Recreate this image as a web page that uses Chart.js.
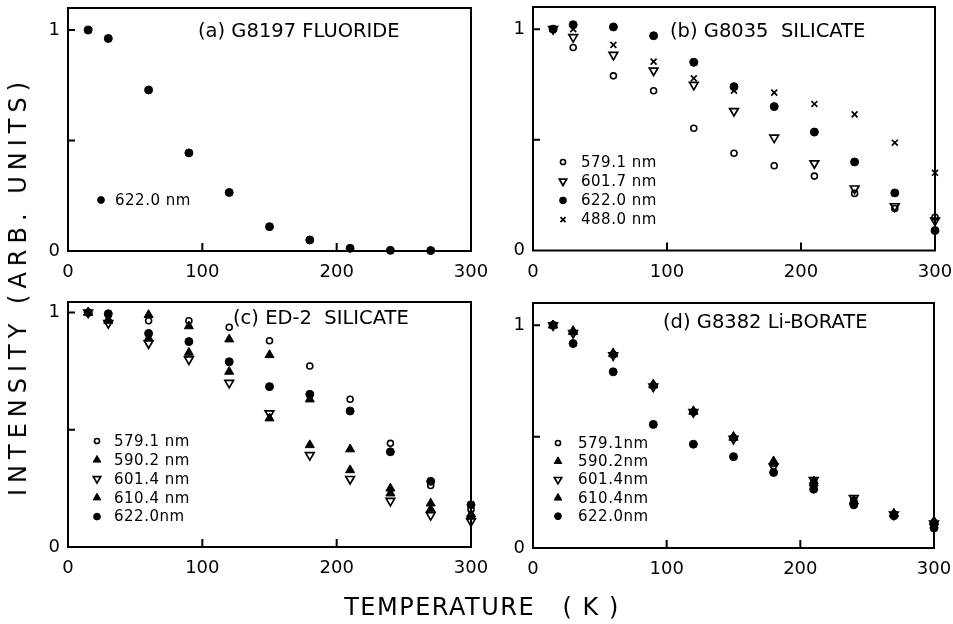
<!DOCTYPE html>
<html>
<head>
<meta charset="utf-8">
<script src="https://cdn.jsdelivr.net/npm/chart.js@4/dist/chart.umd.min.js"></script>
<style>
  html, body { margin: 0; padding: 0; background: #fff; }
  #wrap { position: relative; width: 953px; height: 624px; overflow: hidden; background: #fff; }
  canvas.panel { position: absolute; left: 0; top: 0; }
  .ytitle { position: absolute; left: 18px; top: 286px; transform: translate(-50%, -50%) rotate(-90deg);
    font-family: "DejaVu Sans", sans-serif; font-size: 24px; letter-spacing: 6px; white-space: pre; color: #000; }
  .xtitle { position: absolute; left: 482px; top: 607px; transform: translate(-50%, -50%);
    font-family: "DejaVu Sans", sans-serif; font-size: 24px; letter-spacing: 1.5px; white-space: pre; color: #000; }
</style>
</head>
<body>
<div id="wrap">
  <canvas class="panel" id="pa" width="953" height="624"></canvas>
  <canvas class="panel" id="pb" width="953" height="624"></canvas>
  <canvas class="panel" id="pc" width="953" height="624"></canvas>
  <canvas class="panel" id="pd" width="953" height="624"></canvas>
  <div class="ytitle">INTENSITY (ARB. UNITS)</div>
  <div class="xtitle">TEMPERATURE   ( K )</div>
</div>
<script>
// ---------- data ----------
const xTickValues = [0, 100, 200, 300];
const yTickValues = [0, 0.5, 1];

// (a) G8197 fluoride
const tempsA = [15, 30, 60, 90, 120, 150, 180, 210, 240, 270];
const a_622 = [1.0, 0.962, 0.729, 0.444, 0.265, 0.11, 0.05, 0.012, 0.003, 0.002];

// common temperature grid for (b), (c), (d)
const temps = [15, 30, 60, 90, 120, 150, 180, 210, 240, 270, 300];

// (b) G8035 silicate
const b_579 = [1.0, 0.917, 0.789, 0.722, 0.552, 0.439, 0.383, 0.336, 0.258, 0.19, 0.15];
const b_601 = [1.0, 0.964, 0.884, 0.813, 0.748, 0.63, 0.51, 0.394, 0.28, 0.20, 0.135];
const b_622 = [1.0, 1.02, 1.01, 0.97, 0.85, 0.74, 0.65, 0.535, 0.40, 0.26, 0.09];
const b_488 = [1.0, 1.0, 0.929, 0.853, 0.778, 0.722, 0.713, 0.662, 0.615, 0.487, 0.351];

// (c) ED-2 silicate
const c_579 = [1.0, 0.99, 0.965, 0.965, 0.937, 0.88, 0.772, 0.63, 0.442, 0.262, 0.16];
const c_590 = [1.0, 0.97, 0.99, 0.942, 0.886, 0.819, 0.63, 0.417, 0.25, 0.186, 0.14];
const c_601 = [1.0, 0.955, 0.869, 0.80, 0.70, 0.57, 0.392, 0.29, 0.197, 0.136, 0.11];
const c_610 = [1.0, 0.965, 0.89, 0.829, 0.748, 0.549, 0.435, 0.328, 0.229, 0.161, 0.13];
const c_622 = [1.0, 0.995, 0.911, 0.876, 0.79, 0.684, 0.651, 0.58, 0.406, 0.28, 0.18];

// (d) G8382 Li-borate
const d_579 = [1.0, 0.97, 0.87, 0.73, 0.61, 0.495, 0.38, 0.30, 0.215, 0.152, 0.115];
const d_590 = [1.0, 0.975, 0.875, 0.735, 0.615, 0.50, 0.39, 0.30, 0.21, 0.155, 0.12];
const d_601 = [1.0, 0.965, 0.865, 0.725, 0.61, 0.49, 0.365, 0.305, 0.224, 0.15, 0.11];
const d_610 = [1.0, 0.97, 0.87, 0.73, 0.612, 0.495, 0.385, 0.29, 0.21, 0.152, 0.115];
const d_622 = [1.0, 0.918, 0.791, 0.555, 0.466, 0.41, 0.339, 0.264, 0.194, 0.145, 0.09];

// ---------- styles ----------
const FONT = '"DejaVu Sans", sans-serif';
const STY = {
  openCircle:  { pointStyle: 'circle',   radius: 3.0, fill: 'rgba(0,0,0,0)', bw: 1.6, rot: 0 },
  fillCircle:  { pointStyle: 'circle',   radius: 4.0, fill: '#000', bw: 1, rot: 0 },
  openTriDown: { pointStyle: 'triangle', radius: 5.0, fill: 'rgba(0,0,0,0)', bw: 1.7, rot: 180 },
  fillTriUp:   { pointStyle: 'triangle', radius: 5.2, fill: '#000', bw: 1, rot: 0 },
  cross:       { pointStyle: 'crossRot', radius: 4.2, fill: 'rgba(0,0,0,0)', bw: 1.7, rot: 0 }
};

function ds(label, xs, ys, sty) {
  const s = STY[sty];
  return {
    label, sty,
    data: xs.map((t, i) => ({ x: t, y: ys[i] })),
    pointStyle: s.pointStyle, pointRadius: s.radius, pointRotation: s.rot,
    pointBackgroundColor: s.fill, pointBorderColor: '#000', pointBorderWidth: s.bw,
    showLine: false, clip: false
  };
}

// ---------- plugins ----------
const framePlugin = {
  id: 'frame',
  beforeDatasetsDraw(chart) {
    const { ctx, chartArea: a, scales: { x, y } } = chart;
    ctx.save();
    ctx.strokeStyle = '#000';
    ctx.lineWidth = 2;
    ctx.strokeRect(a.left, a.top, a.right - a.left, a.bottom - a.top);
    ctx.beginPath();
    x.ticks.forEach(t => {
      if (t.value > x.min && t.value < x.max) {
        const px = x.getPixelForValue(t.value);
        ctx.moveTo(px, a.bottom); ctx.lineTo(px, a.bottom - 8);
      }
    });
    y.ticks.forEach(t => {
      if (t.value > y.min && t.value < y.max) {
        const py = y.getPixelForValue(t.value);
        ctx.moveTo(a.left, py); ctx.lineTo(a.left + 7, py);
      }
    });
    ctx.stroke();
    ctx.restore();
  }
};

function drawMarker(ctx, sty, x, y, scale) {
  const s = STY[sty];
  ctx.save();
  ctx.fillStyle = s.fill;
  ctx.strokeStyle = '#000';
  ctx.lineWidth = s.bw;
  if (Chart.helpers && Chart.helpers.drawPoint) {
    Chart.helpers.drawPoint(ctx, { pointStyle: s.pointStyle, radius: s.radius * scale, borderWidth: s.bw, rotation: s.rot }, x, y);
  } else {
    ctx.beginPath(); ctx.arc(x, y, s.radius * scale, 0, Math.PI * 2); ctx.fill(); ctx.stroke();
  }
  ctx.restore();
}

const annotPlugin = {
  id: 'annot',
  afterDraw(chart, args, opts) {
    const { ctx, chartArea: a } = chart;
    ctx.save();
    ctx.fillStyle = '#000';
    ctx.textBaseline = 'middle';
    ctx.textAlign = 'left';
    if (opts.title) {
      ctx.font = '19.5px ' + FONT;
      ctx.fillText(opts.title, a.left + opts.titleDx, a.top + opts.titleDy);
    }
    if (opts.legend) {
      ctx.font = '15px ' + FONT;
      try { ctx.letterSpacing = '0.5px'; } catch (e) {}
      const dsets = chart.data.datasets;
      dsets.forEach((d, i) => {
        const yy = a.top + opts.legDy + i * opts.legRow;
        drawMarker(ctx, d.sty, a.left + opts.legMx, yy, 0.85);
        ctx.fillText(d.label, a.left + opts.legTx, yy + 1);
      });
    }
    ctx.restore();
  }
};

// ---------- panel factory ----------
const YW = 40, XH = 40;
function panel(id, box, ymax, datasets, annot) {
  new Chart(document.getElementById(id), {
    type: 'scatter',
    data: { datasets },
    plugins: [framePlugin, annotPlugin],
    options: {
      responsive: false,
      animation: false,
      events: [],
      layout: { padding: { left: box.l - YW, top: box.t, right: 953 - box.r, bottom: 624 - box.b - XH } },
      scales: {
        x: {
          type: 'linear', min: 0, max: 300, position: 'bottom',
          afterBuildTicks: s => { s.ticks = xTickValues.map(v => ({ value: v })); },
          afterFit: s => { s.height = XH; s.paddingLeft = 0; s.paddingRight = 0; },
          grid: { display: false, drawTicks: false },
          border: { display: false },
          ticks: { padding: 11, color: '#000', autoSkip: false, maxRotation: 0,
                   font: { family: FONT, size: 18 } }
        },
        y: {
          type: 'linear', min: 0, max: ymax, position: 'left',
          afterBuildTicks: s => { s.ticks = yTickValues.map(v => ({ value: v })); },
          afterFit: s => { s.width = YW; s.paddingTop = 0; s.paddingBottom = 0; },
          grid: { display: false, drawTicks: false },
          border: { display: false },
          ticks: { padding: 8, color: '#000', autoSkip: false,
                   callback: v => (v === 0 || v === 1) ? String(v) : '',
                   font: { family: FONT, size: 18 } }
        }
      },
      plugins: { legend: { display: false }, tooltip: { enabled: false }, annot }
    }
  });
}

panel('pa', { l: 68, r: 471, t: 8, b: 251 }, 1.1,
  [ds('622.0 nm', tempsA, a_622, 'fillCircle')],
  { title: '(a) G8197 FLUORIDE', titleDx: 130, titleDy: 24, legend: true, legMx: 33, legTx: 47, legDy: 192, legRow: 19 });

panel('pb', { l: 533, r: 935, t: 7, b: 250.5 }, 1.1,
  [ds('579.1 nm', temps, b_579, 'openCircle'),
   ds('601.7 nm', temps, b_601, 'openTriDown'),
   ds('622.0 nm', temps, b_622, 'fillCircle'),
   ds('488.0 nm', temps, b_488, 'cross')],
  { title: '(b) G8035  SILICATE', titleDx: 137, titleDy: 25, legend: true, legMx: 30, legTx: 48, legDy: 155, legRow: 19.2 });

panel('pc', { l: 68, r: 471, t: 302, b: 547 }, 1.045,
  [ds('579.1 nm', temps, c_579, 'openCircle'),
   ds('590.2 nm', temps, c_590, 'fillTriUp'),
   ds('601.4 nm', temps, c_601, 'openTriDown'),
   ds('610.4 nm', temps, c_610, 'fillTriUp'),
   ds('622.0nm', temps, c_622, 'fillCircle')],
  { title: '(c) ED-2  SILICATE', titleDx: 165, titleDy: 17, legend: true, legMx: 29, legTx: 46, legDy: 139, legRow: 18.9 });

panel('pd', { l: 533, r: 934, t: 303, b: 548 }, 1.1,
  [ds('579.1nm', temps, d_579, 'openCircle'),
   ds('590.2nm', temps, d_590, 'fillTriUp'),
   ds('601.4nm', temps, d_601, 'openTriDown'),
   ds('610.4nm', temps, d_610, 'fillTriUp'),
   ds('622.0nm', temps, d_622, 'fillCircle')],
  { title: '(d) G8382 Li-BORATE', titleDx: 130, titleDy: 20, legend: true, legMx: 25, legTx: 45, legDy: 140, legRow: 18.3 });
</script>
</body>
</html>
